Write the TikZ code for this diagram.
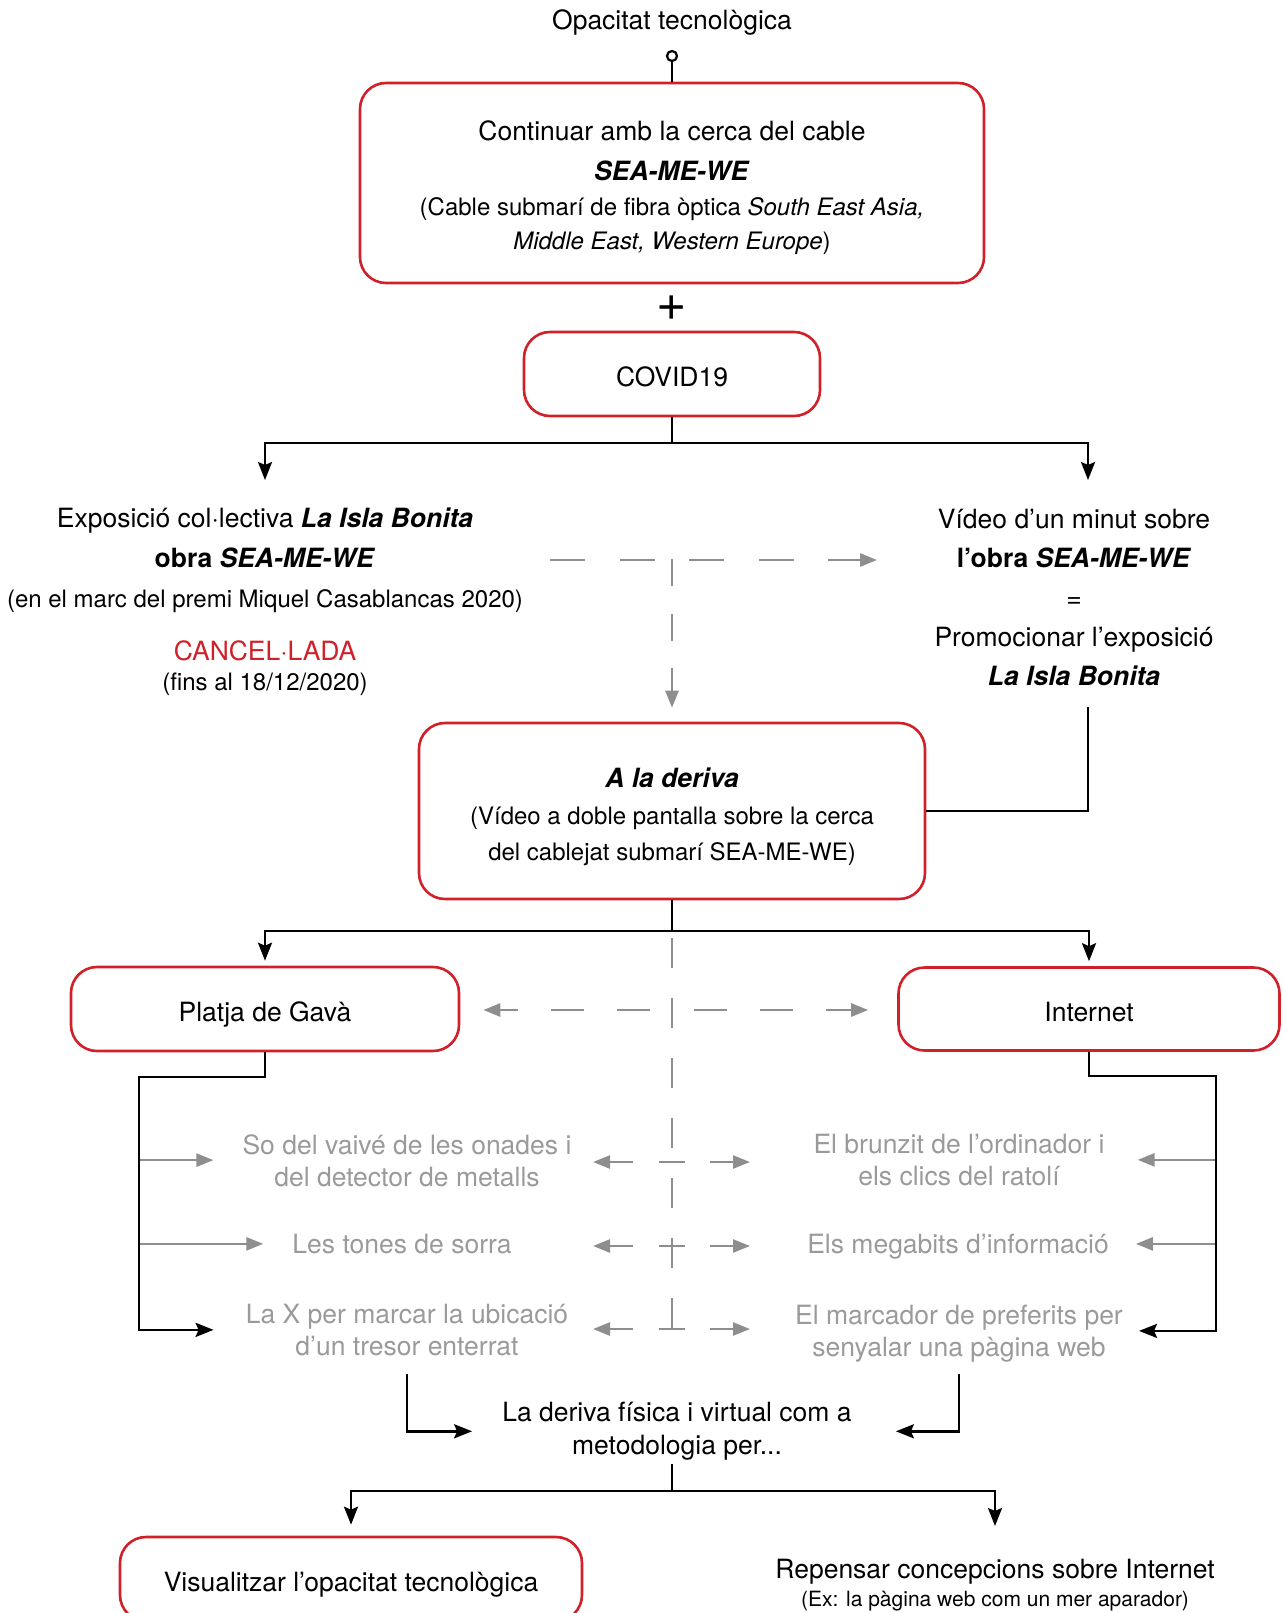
\documentclass[tikz,border=0pt]{standalone}
\usepackage{fontspec}
\setmainfont{TeX Gyre Heros}
\usepackage{xcolor}
\usepackage{tikz}
\usetikzlibrary{positioning, arrows.meta, calc}
\definecolor{BoxRed}{HTML}{D0212A}
\definecolor{LineGrey}{HTML}{8E8E8E}
\definecolor{TextGrey}{HTML}{9A9A9A}
\newcommand{\fbig}{\fontsize{26.5}{40}\selectfont}
\newcommand{\fmid}{\fontsize{24}{34}\selectfont}
\newcommand{\fgry}{\fontsize{26.5}{32}\selectfont}
\newcommand{\fsml}{\fontsize{21}{26}\selectfont}
\newcommand{\bfit}[1]{\textbf{\textit{#1}}}

\begin{document}
\begin{tikzpicture}[
  x=1pt, y=-1pt,
  plain/.style={line width=2.6pt},
  conn/.style={-{Stealth[length=18pt, width=14pt, inset=3pt]}, line width=2.6pt},
  gline/.style={line width=2.6pt, color=LineGrey},
  garr/.style={-{Triangle[length=17pt, width=13pt]}, line width=2.6pt, color=LineGrey},
  redbox/.style={draw=BoxRed, line width=2.6pt, rounded corners=26pt,
                 align=center, inner sep=0pt, font=\fbig},
  onerow/.style={text height=24pt, text depth=0pt},
  txt/.style={align=center, inner sep=0pt, font=\fbig},
  gtxt/.style={align=center, inner sep=0pt, font=\fgry, text=TextGrey, text depth=0pt},
]
\clip (0,0) rectangle (1282,1613);

% ===== Top : cable + COVID19 =====
  \node[txt] (title) at (672,22) {Opacitat tecnològica};
  \node[circle, draw, line width=2.2pt, minimum size=10pt, inner sep=0pt] (knob) at (672,56) {};
  \node[redbox, minimum width=624pt, minimum height=200pt] (cable) at (672,183)
    {\rule{0pt}{29pt}Continuar amb la cerca del cable\\
     \bfit{SEA-ME-WE}\\[-5pt]
     {\fmid (Cable submarí de fibra òptica \textit{South East Asia,}}\\[-6pt]
     {\fmid \textit{Middle East, Western Europe})}};
  \node[inner sep=0pt, font=\fontsize{52}{52}\selectfont] (plus) at (672,308) {+};
  \node[redbox, onerow, minimum width=296pt, minimum height=84pt] (covid) at (672,374) {COVID19};
  \draw[plain] (knob) -- (cable);

% ===== Exposicio / Video =====
  \node[txt, anchor=north] (expo) at (265,508)
    {Exposició col·lectiva \bfit{La Isla Bonita}\\
     \textbf{obra \textit{SEA-ME-WE}}\\
     {\fmid (en el marc del premi Miquel Casablancas 2020)}\\[13pt]
     {\color{BoxRed}CANCEL·LADA}\\[-10pt]
     {\fmid (fins al 18/12/2020)}};
  \node[txt, anchor=north, font=\fontsize{26.5}{39.3}\selectfont] (vid) at (1074,509)
    {Vídeo d’un minut sobre\\
     \textbf{l’obra \textit{SEA-ME-WE}}\\
     =\\
     Promocionar l’exposició\\
     \bfit{La Isla Bonita}};
  \coordinate (split1) at (672,443);
  \coordinate (rcol) at (1088,443);
  \draw[plain] (covid) -- (split1);
  \draw[conn, shorten >=28pt] (split1) -| (expo.north);
  \draw[conn, shorten >=29pt] (split1) -- (rcol) -- (rcol |- vid.north);

  \coordinate (dh0) at (550,560);
  \coordinate (dh1) at (877,560);
  \coordinate (dv0) at (672,559);
  \draw[garr, dash pattern=on 35pt off 34.5pt] (dh0) -- (dh1);

% ===== A la deriva =====
  \node[redbox, minimum width=506pt, minimum height=176pt, font=\fontsize{26.5}{37}\selectfont]
    (deriva) at (672,811)
    {\rule{0pt}{31pt}\bfit{A la deriva}\\
     {\fmid (Vídeo a doble pantalla sobre la cerca}\\[-1pt]
     {\fmid del cablejat submarí SEA-ME-WE)}};
  \draw[garr, dash pattern=on 27pt off 27.5pt, shorten >=14pt] (dv0) -- (deriva.north);
  \draw[plain, shorten <=21pt] (vid.south -| rcol) |- (deriva.east);

% ===== Platja / Internet =====
  \node[redbox, onerow, minimum width=388pt, minimum height=84pt] (platja) at (265,1009) {Platja de Gavà};
  \node[redbox, onerow, minimum width=381pt, minimum height=83pt] (internet) at (1089,1009) {Internet};
  \coordinate (split2) at (672,931);
  \draw[plain] (deriva) -- (split2);
  \draw[conn, shorten >=5pt] (split2) -| (platja.north);
  \draw[conn, shorten >=5pt] (split2) -| (internet.north);

  \coordinate (mj) at (672,1010);
  \coordinate (vtop) at (672,938);
  \coordinate (vbot) at (672,1328);
  \draw[gline, dash pattern=on 30pt off 30pt] (vtop) -- (vbot);
  \draw[garr, dash pattern=on 33pt off 33pt, dash phase=44pt, shorten >=23pt] (mj) -- (platja.east |- mj);
  \draw[garr, dash pattern=on 33pt off 33pt, dash phase=44pt, shorten >=29pt] (mj) -- (internet.west |- mj);

% ===== grey rows =====
  \node[gtxt, anchor=north] (onades) at (407,1134) {So del vaivé de les onades i\\del detector de metalls};
  \node[gtxt, anchor=north] (sorra) at (402,1234) {Les tones de sorra};
  \node[gtxt, anchor=north] (tresor) at (407,1304) {La X per marcar la ubicació\\d’un tresor enterrat};
  \node[gtxt, anchor=north] (brunzit) at (959,1134) {El brunzit de l’ordinador i\\els clics del ratolí};
  \node[gtxt, anchor=north] (megabits) at (958,1234) {Els megabits d’informació};
  \node[gtxt, anchor=north] (marcador) at (959,1305) {El marcador de preferits per\\senyalar una pàgina web};

  \coordinate (spL) at (139,1077);
  \coordinate (spR) at (1216,1076);
  \draw[garr, shorten >=29pt] (spL |- onades.west) -- (onades.west);
  \draw[garr, shorten >=29pt] (spL |- sorra.west) -- (sorra.west);
  \draw[garr, shorten >=33pt] (spR |- brunzit.east) -- (brunzit.east);
  \draw[garr, shorten >=27pt] (spR |- megabits.east) -- (megabits.east);
  \draw[conn, shorten >=32pt] (platja.south) |- (spL) |- (tresor.west);
  \draw[conn, shorten >=16pt] (internet.south) |- (spR) |- (marcador.east);

  \foreach \r/\yy in {1/1162, 2/1246, 3/1329} {
    \coordinate (mid\r) at (672,\yy);
    \coordinate (tipL\r) at (593,\yy);
    \coordinate (tipR\r) at (750,\yy);
    \draw[gline] ([xshift=-13pt]mid\r) -- ([xshift=13pt]mid\r);
    \draw[garr, shorten <=39pt] (mid\r) -- (tipL\r);
    \draw[garr, shorten <=38pt] (mid\r) -- (tipR\r);
  }

% ===== Bottom =====
  \node[txt, anchor=north, font=\fontsize{26.5}{33}\selectfont] (metod) at (677,1402)
    {La deriva física i virtual com a\\metodologia per...};
  \draw[conn, shorten <=18pt, shorten >=30pt] (tresor.south) |- (metod.west);
  \draw[conn, shorten <=17pt, shorten >=44pt] (marcador.south) |- (metod.east);
  \coordinate (split3) at (672,1491);
  \draw[plain, shorten <=3pt] (metod.south -| split3) -- (split3);
  \node[redbox, onerow, minimum width=462pt, minimum height=84pt] (visual) at (351,1579)
    {Visualitzar l’opacitat tecnològica};
  \node[txt, anchor=north, font=\fontsize{26.5}{28}\selectfont] (repensar) at (995,1559)
    {Repensar concepcions sobre Internet\\{\fsml (Ex: la pàgina web com un mer aparador)}};
  \draw[conn, shorten >=11pt] (split3) -| (visual.north);
  \draw[conn, shorten >=33pt] (split3) -| (repensar.north);

\end{tikzpicture}
\end{document}
